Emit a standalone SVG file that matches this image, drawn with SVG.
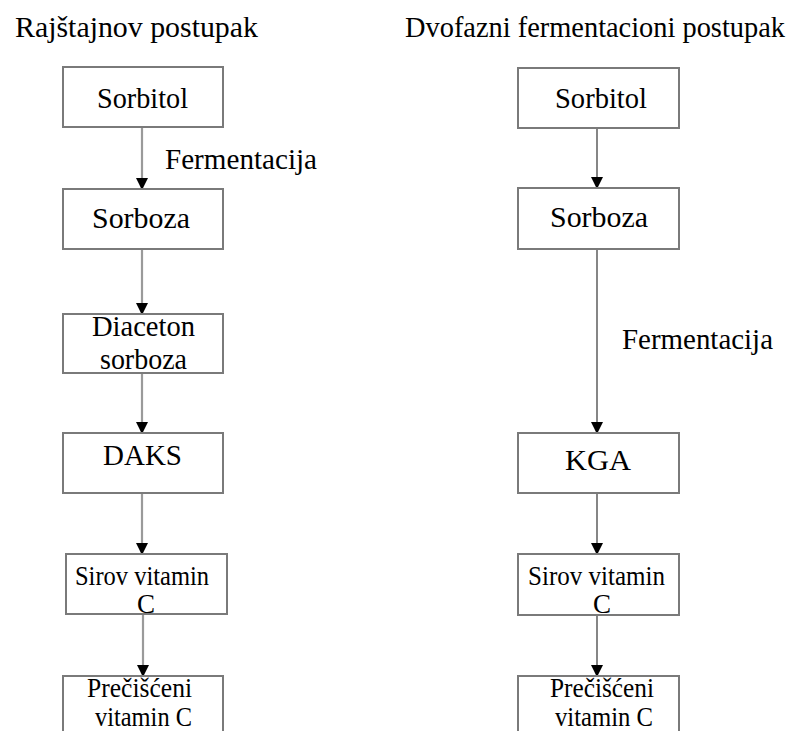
<svg xmlns="http://www.w3.org/2000/svg" width="792" height="731" viewBox="0 0 792 731">
<style>
text{font-family:'Liberation Serif','Times New Roman',Tinos,'DejaVu Serif',serif;font-size:29px;fill:#000}
.h{font-size:28.5px}
.f{font-size:30px}
.s{font-size:27px}
.box{fill:#fff;stroke:#7a7a7a;stroke-width:2}
.la{stroke:#9a9a9a;stroke-width:2.2;fill:none}
.ra{stroke:#444;stroke-width:1.3;fill:none}
</style>
<defs>
<marker id="ah" markerUnits="userSpaceOnUse" markerWidth="12" markerHeight="12" refX="10" refY="5.5" orient="auto" viewBox="0 0 11 11">
<path d="M0,0 L11,5.5 L0,11 z" fill="#000"/>
</marker>
</defs>
<rect width="792" height="731" fill="#fff"/>
<text class="h" x="15" y="37" textLength="243" lengthAdjust="spacingAndGlyphs">Rajštajnov postupak</text>
<text class="h" x="405" y="37" textLength="380" lengthAdjust="spacingAndGlyphs">Dvofazni fermentacioni postupak</text>

<g id="connectors">
<line class="la" x1="142" y1="127" x2="142" y2="189" marker-end="url(#ah)"/>
<line class="la" x1="142" y1="249" x2="142" y2="314" marker-end="url(#ah)"/>
<line class="la" x1="142" y1="373" x2="142" y2="433" marker-end="url(#ah)"/>
<line class="la" x1="142" y1="493" x2="142" y2="554" marker-end="url(#ah)"/>
<line class="la" x1="143" y1="614" x2="143" y2="676" marker-end="url(#ah)"/>
<line class="ra" x1="597" y1="128" x2="597" y2="188" marker-end="url(#ah)"/>
<line class="ra" x1="597" y1="249" x2="597" y2="433" marker-end="url(#ah)"/>
<line class="ra" x1="597" y1="493" x2="597" y2="554" marker-end="url(#ah)"/>
<line class="ra" x1="597" y1="615" x2="597" y2="676" marker-end="url(#ah)"/>
<text class="f" x="165" y="169" textLength="152" lengthAdjust="spacingAndGlyphs">Fermentacija</text>
<text class="f" x="622" y="349" textLength="151" lengthAdjust="spacingAndGlyphs">Fermentacija</text>
</g>

<g id="l-sorbitol"><rect class="box" x="63" y="67" width="160" height="60"/><text x="97" y="108" textLength="91" lengthAdjust="spacingAndGlyphs">Sorbitol</text></g>
<g id="l-sorboza"><rect class="box" x="63" y="189" width="160" height="60"/><text x="92" y="228" textLength="98" lengthAdjust="spacingAndGlyphs">Sorboza</text></g>
<g id="l-diaceton"><rect class="box" x="63" y="314" width="160" height="59"/><text x="92" y="336" textLength="103" lengthAdjust="spacingAndGlyphs">Diaceton</text><text x="100" y="369" textLength="87" lengthAdjust="spacingAndGlyphs">sorboza</text></g>
<g id="l-daks"><rect class="box" x="63" y="433" width="160" height="60"/><text x="103" y="465" textLength="79" lengthAdjust="spacingAndGlyphs">DAKS</text></g>
<g id="l-sirov"><rect class="box" x="66" y="554" width="161" height="60"/><text class="s" x="75" y="585" textLength="134" lengthAdjust="spacingAndGlyphs">Sirov vitamin</text><text class="s" x="137" y="613">C</text></g>
<g id="l-precisceni"><rect class="box" x="63" y="676" width="160" height="70"/><text class="s" x="87" y="697" textLength="105" lengthAdjust="spacingAndGlyphs">Prečišćeni</text><text class="s" x="95" y="726" textLength="97" lengthAdjust="spacingAndGlyphs">vitamin C</text></g>

<g id="r-sorbitol"><rect class="box" x="518" y="68" width="161" height="60"/><text x="555" y="108" textLength="92" lengthAdjust="spacingAndGlyphs">Sorbitol</text></g>
<g id="r-sorboza"><rect class="box" x="518" y="188" width="161" height="61"/><text x="550" y="227" textLength="98" lengthAdjust="spacingAndGlyphs">Sorboza</text></g>
<g id="r-kga"><rect class="box" x="518" y="433" width="161" height="60"/><text x="565" y="470" textLength="66" lengthAdjust="spacingAndGlyphs">KGA</text></g>
<g id="r-sirov"><rect class="box" x="518" y="554" width="161" height="61"/><text class="s" x="528" y="585" textLength="137" lengthAdjust="spacingAndGlyphs">Sirov vitamin</text><text class="s" x="593" y="613">C</text></g>
<g id="r-precisceni"><rect class="box" x="518" y="676" width="161" height="70"/><text class="s" x="550" y="697" textLength="104" lengthAdjust="spacingAndGlyphs">Prečišćeni</text><text class="s" x="555" y="726" textLength="98" lengthAdjust="spacingAndGlyphs">vitamin C</text></g>
</svg>
